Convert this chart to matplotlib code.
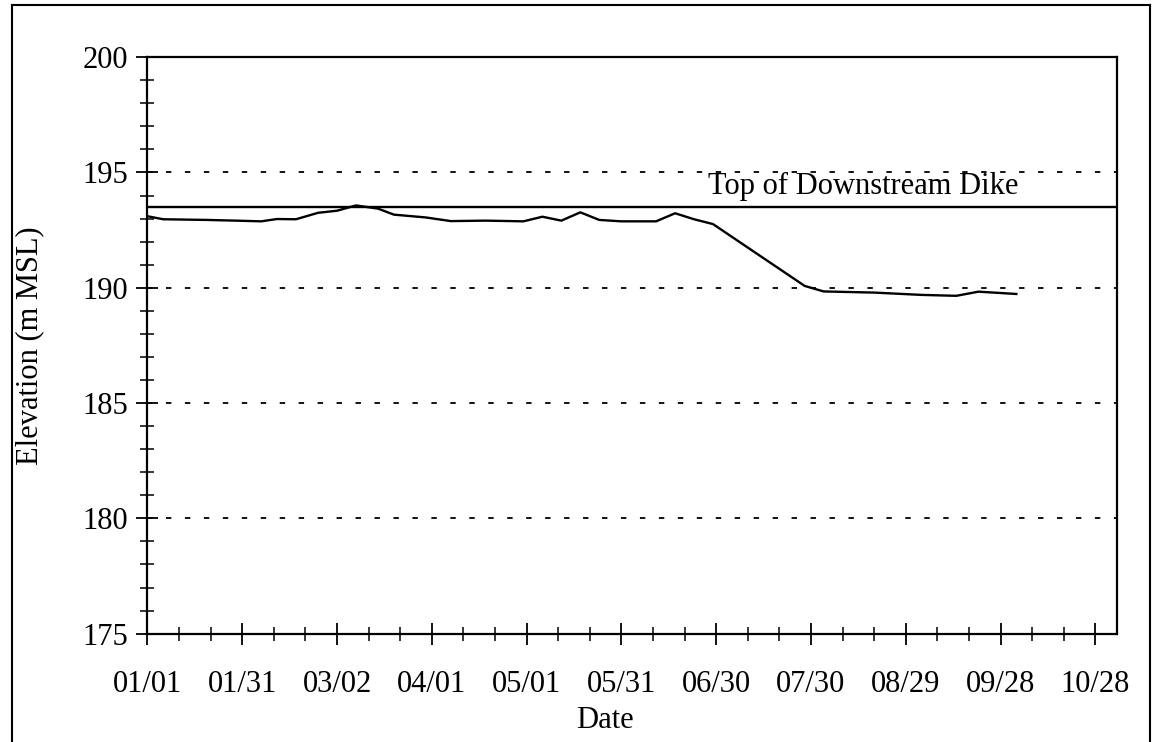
import matplotlib
matplotlib.use("Agg")
import matplotlib.pyplot as plt
from matplotlib.lines import Line2D

plt.rcParams["font.family"] = ["Liberation Serif", "DejaVu Serif"]

# day of year (0 = 01/01) and pool elevation
days = [0, 5, 19, 28, 36, 41, 47, 54, 60, 66, 73, 78, 88, 96, 107, 119,
        125, 131, 137, 143, 150, 161, 167, 173, 179, 208, 214, 230, 245,
        256, 263, 275]
elev = [193.10, 192.97, 192.94, 192.91, 192.88, 192.98, 192.97, 193.25,
        193.34, 193.57, 193.43, 193.17, 193.05, 192.89, 192.91, 192.88,
        193.08, 192.91, 193.27, 192.94, 192.88, 192.88, 193.23, 192.97,
        192.76, 190.08, 189.84, 189.79, 189.69, 189.65, 189.83, 189.73]
dike_top = 193.5
dike_label = "Top of Downstream Dike"

tick_days = [0, 30, 60, 90, 120, 150, 180, 210, 240, 270, 300]
tick_labels = ["01/01", "01/31", "03/02", "04/01", "05/01", "05/31",
               "06/30", "07/30", "08/29", "09/28", "10/28"]
grid_levels = [180, 185, 190, 195]

fig = plt.figure(figsize=(11.52, 7.42), dpi=100)
ax = fig.add_axes([0.128, 0.146, 0.842, 0.777])

for g in grid_levels:
    ax.axhline(g, color="black", lw=1.3, ls=(0, (3, 7.5)), zorder=1)
ax.axhline(dike_top, color="black", lw=1.7, zorder=2)
ax.text(0.898, dike_top + 0.25, dike_label, transform=ax.get_yaxis_transform(),
        ha="right", va="bottom", fontsize=22)
ax.plot(days, elev, color="black", lw=1.7, zorder=3)

ax.set_xlim(0, 307)
ax.set_ylim(175, 200)
ax.set_xticks(tick_days)
ax.set_xticklabels(tick_labels)
ax.set_xticks(range(0, 307, 10), minor=True)
ax.set_yticks(range(175, 201, 5))
ax.set_yticks(range(175, 201, 1), minor=True)

ax.tick_params(axis="both", which="major", direction="inout", length=16,
               width=1.3, labelsize=22, color="black")
ax.tick_params(axis="both", which="minor", direction="inout", length=10,
               width=1.1)
ax.tick_params(axis="x", which="major", pad=18)
ax.tick_params(axis="y", which="major", pad=6)

for s in ax.spines.values():
    s.set_linewidth(1.6)

ax.set_xlabel("Date", fontsize=22, labelpad=0)
ax.xaxis.set_label_coords(0.472, -0.125)
ax.set_ylabel("Elevation (m MSL)", fontsize=22)
ax.yaxis.set_label_coords(-0.106, 0.5)

# outer frame of the page figure
fig.add_artist(Line2D([0.010, 0.010], [0.0, 0.993], color="black", lw=1.5,
                      transform=fig.transFigure))
fig.add_artist(Line2D([0.010, 0.998], [0.993, 0.993], color="black", lw=1.5,
                      transform=fig.transFigure))
fig.add_artist(Line2D([0.998, 0.998], [0.0, 0.993], color="black", lw=1.5,
                      transform=fig.transFigure))

fig.savefig("out.png", dpi=100)
